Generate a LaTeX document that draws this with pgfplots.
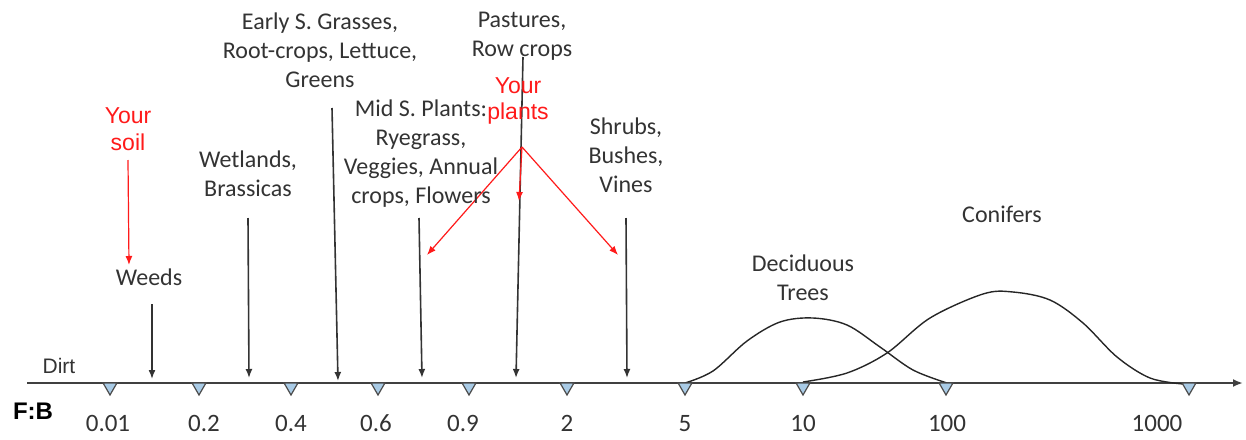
\documentclass[border=0pt]{standalone}
\usepackage{pgfplots}
\pgfplotsset{compat=1.18}
\usepackage{fontspec}
\setmainfont{Carlito}
\newfontfamily\arialf{Liberation Sans}
\usetikzlibrary{arrows.meta}
\definecolor{txt}{HTML}{333333}
\definecolor{tri}{HTML}{A9CBE6}
\definecolor{myred}{HTML}{FF1A1A}
\begin{document}
\begin{tikzpicture}
\begin{axis}[width=623pt, height=219.5pt, scale only axis,
  xmin=0, xmax=1246, ymin=0, ymax=439, y dir=reverse,
  axis line style={draw=none}, ticks=none, clip=false]
\addplot[draw=none, forget plot] coordinates {(0,0) (1246,439)};
% main axis line
\addplot[black!75, line width=1pt, -{Latex[length=5pt,width=4pt]}] coordinates {(27,383) (1243,383)};
% bell curves
\addplot[black!85, line width=0.7pt, smooth, tension=0.55] coordinates {(685,383) (713,371) (747,341) (780,322) (813,318) (847,325) (880,347) (913,370) (947,383)};
\addplot[black!85, line width=0.7pt, smooth, tension=0.55] coordinates {(803,382) (847,373) (887,353) (930,318) (983,294) (1013,292) (1050,300) (1083,323) (1117,357) (1150,378) (1183,384)};
% triangles
\addplot[only marks, mark=triangle*, mark size=4pt, mark options={rotate=180, fill=tri, draw=black!70, line width=0.6pt}] coordinates {(110,387) (199,387) (291,387) (378,387) (469,387) (567,387) (685,387) (803,387) (946,387) (1189,387)};
% black arrows
\addplot[txt, line width=0.8pt, -{Latex[length=4.5pt,width=3.5pt]}] coordinates {(152,304) (152,379)};
\addplot[txt, line width=0.8pt, -{Latex[length=4.5pt,width=3.5pt]}] coordinates {(248,218) (249,378)};
\addplot[txt, line width=0.8pt, -{Latex[length=4.5pt,width=3.5pt]}] coordinates {(332,108) (338,381)};
\addplot[txt, line width=0.8pt, -{Latex[length=4.5pt,width=3.5pt]}] coordinates {(419,218) (422,378)};
\addplot[txt, line width=0.8pt, -{Latex[length=4.5pt,width=3.5pt]}] coordinates {(523,57) (516,378)};
\addplot[txt, line width=0.8pt, -{Latex[length=4.5pt,width=3.5pt]}] coordinates {(626,218) (627,378)};
% red arrows
\addplot[myred, line width=0.6pt, -{Latex[length=4.5pt,width=3.5pt]}] coordinates {(128,160) (129,265)};
\addplot[myred, line width=0.6pt, -{Latex[length=4.5pt,width=3.5pt]}] coordinates {(522,147) (427,255)};
\addplot[myred, line width=0.6pt, -{Latex[length=4.5pt,width=3.5pt]}] coordinates {(522,147) (519,201)};
\addplot[myred, line width=0.6pt, -{Latex[length=4.5pt,width=3.5pt]}] coordinates {(522,147) (618,255)};
% labels
\tikzset{lab/.style={txt, align=center, font=\fontsize{12}{14.5}\selectfont, inner sep=0pt}}
\tikzset{rlab/.style={myred, align=center, font=\arialf\fontsize{11.5}{13.2}\selectfont, inner sep=0pt}}
\node[lab] at (320,50) {Early S. Grasses,\\Root-crops, Lettuce,\\Greens};
\node[lab] at (522,36) {Pastures,\\Row crops};
\node[lab] at (248,174) {Wetlands,\\Brassicas};
\node[lab] at (149,277) {Weeds};
\node[lab] at (421,154) {Mid S. Plants:\\Ryegrass,\\Veggies, Annual\\crops, Flowers};
\node[lab] at (626,155) {Shrubs,\\Bushes,\\Vines};
\node[lab] at (803,278) {Deciduous\\Trees};
\node[lab] at (1002,214) {Conifers};
\node[rlab] at (128,129) {Your\\soil};
\node[rlab] at (518,101) {Your\\plants};
\node[txt, font=\arialf\fontsize{10.5}{12}\selectfont, inner sep=0pt] at (59,366) {Dirt};
\node[black, font=\arialf\bfseries\fontsize{12}{14}\selectfont, inner sep=0pt] at (33,411) {F:B};
% tick labels
\tikzset{tl/.style={txt, font=\fontsize{12.5}{14}\selectfont, inner sep=0pt, anchor=base}}
\node[tl] at (108,431) {0.01};
\node[tl] at (204,431) {0.2};
\node[tl] at (291,431) {0.4};
\node[tl] at (376,431) {0.6};
\node[tl] at (463,431) {0.9};
\node[tl] at (567,431) {2};
\node[tl] at (685,431) {5};
\node[tl] at (803,431) {10};
\node[tl] at (947,431) {100};
\node[tl] at (1157,431) {1000};
\end{axis}
\end{tikzpicture}
\end{document}
